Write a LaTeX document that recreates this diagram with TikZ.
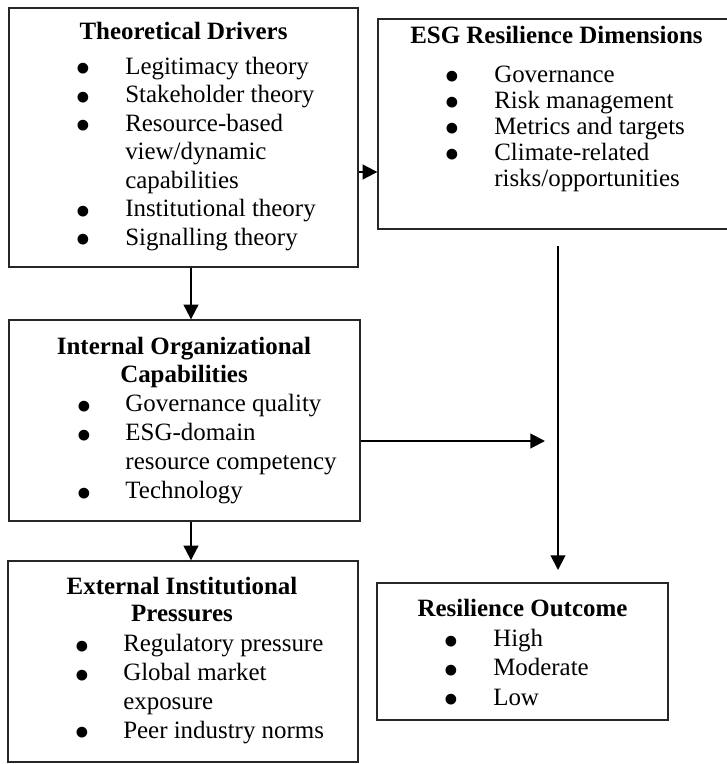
\documentclass[tikz,border=0pt]{standalone}
\usepackage{fontspec}
\setmainfont{Liberation Serif}
\usepackage{graphicx}
\usetikzlibrary{arrows.meta,fit}
\newcommand\bul{\smash{\raisebox{-0.39em}{\scalebox{1.8}{\textbullet}}}}
% #1 bullet column width, #2 leading, #3 rows
\newcommand\itemlist[3]{\fontsize{18.7pt}{#2}\selectfont\begin{tabular}[t]{@{}p{#1}@{}l@{}}#3\end{tabular}}
\newcommand\ttl[2]{\fontsize{18.7pt}{#1}\selectfont\bfseries\begin{tabular}[t]{@{}c@{}}#2\end{tabular}}
\tikzset{
  box/.style={draw=black!85, line width=1pt, inner sep=0pt},
  txt/.style={inner sep=0pt, anchor=base},
  lst/.style={inner sep=0pt, anchor=base west},
  arr/.style={-{Triangle[length=11pt,width=11pt]}, line width=1.5pt},
}
\begin{document}
\begin{tikzpicture}[x=0.75pt,y=-0.75pt]
\useasboundingbox (0,0) rectangle (727,764);
\fill[white] (0,0) rectangle (727,764);
\clip (0,0) rectangle (727,764);
% boxes
\coordinate (b1a) at (9,8);   \coordinate (b1b) at (358,267);
\coordinate (b2a) at (378,19);\coordinate (b2b) at (745,229);
\coordinate (b3a) at (9,320); \coordinate (b3b) at (360,521);
\coordinate (b4a) at (8,561); \coordinate (b4b) at (358,762);
\coordinate (b5a) at (377,583);\coordinate (b5b) at (668,720);
\node[box, fit=(b1a)(b1b)] (b1) {};
\node[box, fit=(b2a)(b2b)] (b2) {};
\node[box, fit=(b3a)(b3b)] (b3) {};
\node[box, fit=(b4a)(b4b)] (b4) {};
\node[box, fit=(b5a)(b5b)] (b5) {};
% box 1
\node[txt] (t1) at (183.5,39.3) {\ttl{21pt}{Theoretical Drivers}};
\node[lst] (l1) at (75,74) {\itemlist{37.5pt}{21.4pt}{%
\bul & Legitimacy theory\\
\bul & Stakeholder theory\\
\bul & Resource-based\\
 & view/dynamic\\
 & capabilities\\
\bul & Institutional theory\\
\bul & Signalling theory}};
% box 2
\node[txt] (t2) at (556.5,43) {\ttl{21pt}{ESG Resilience Dimensions}};
\node[lst] (l2) at (444,82) {\itemlist{37.5pt}{19.5pt}{%
\bul & Governance\\
\bul & Risk management\\
\bul & Metrics and targets\\
\bul & Climate-related\\
 & risks/opportunities}};
% box 3
\node[txt] (t3) at (184,354) {\ttl{21pt}{Internal Organizational\\Capabilities}};
\node[lst] (l3) at (76,411.7) {\itemlist{36.9pt}{21.7pt}{%
\bul & Governance quality\\
\bul & ESG-domain\\
 & resource competency\\
\bul & Technology}};
% box 4
\node[txt] (t4) at (182,594) {\ttl{20.8pt}{External Institutional\\Pressures}};
\node[lst] (l4) at (74,651.7) {\itemlist{36.75pt}{21.6pt}{%
\bul & Regulatory pressure\\
\bul & Global market\\
 & exposure\\
\bul & Peer industry norms}};
% box 5
\node[txt] (t5) at (522.5,616.7) {\ttl{21pt}{Resilience Outcome}};
\node[lst] (l5) at (443,646.7) {\itemlist{37.5pt}{21.9pt}{%
\bul & High\\
\bul & Moderate\\
\bul & Low}};
% connectors
\draw[arr] (b1.east |- 0,172) -- (b2.west |- 0,172);
\draw[arr] (b1.south -| 191,0) -- (b3.north -| 191,0);
\draw[arr] (b3.south -| 191,0) -- (b4.north -| 191,0);
\coordinate (j) at (545,441);
\draw[arr] (b3.east |- j) -- (j);
\coordinate (vs) at (558,246);
\coordinate (ve) at (558,570);
\draw[arr] (vs) -- (ve);
\end{tikzpicture}
\end{document}
